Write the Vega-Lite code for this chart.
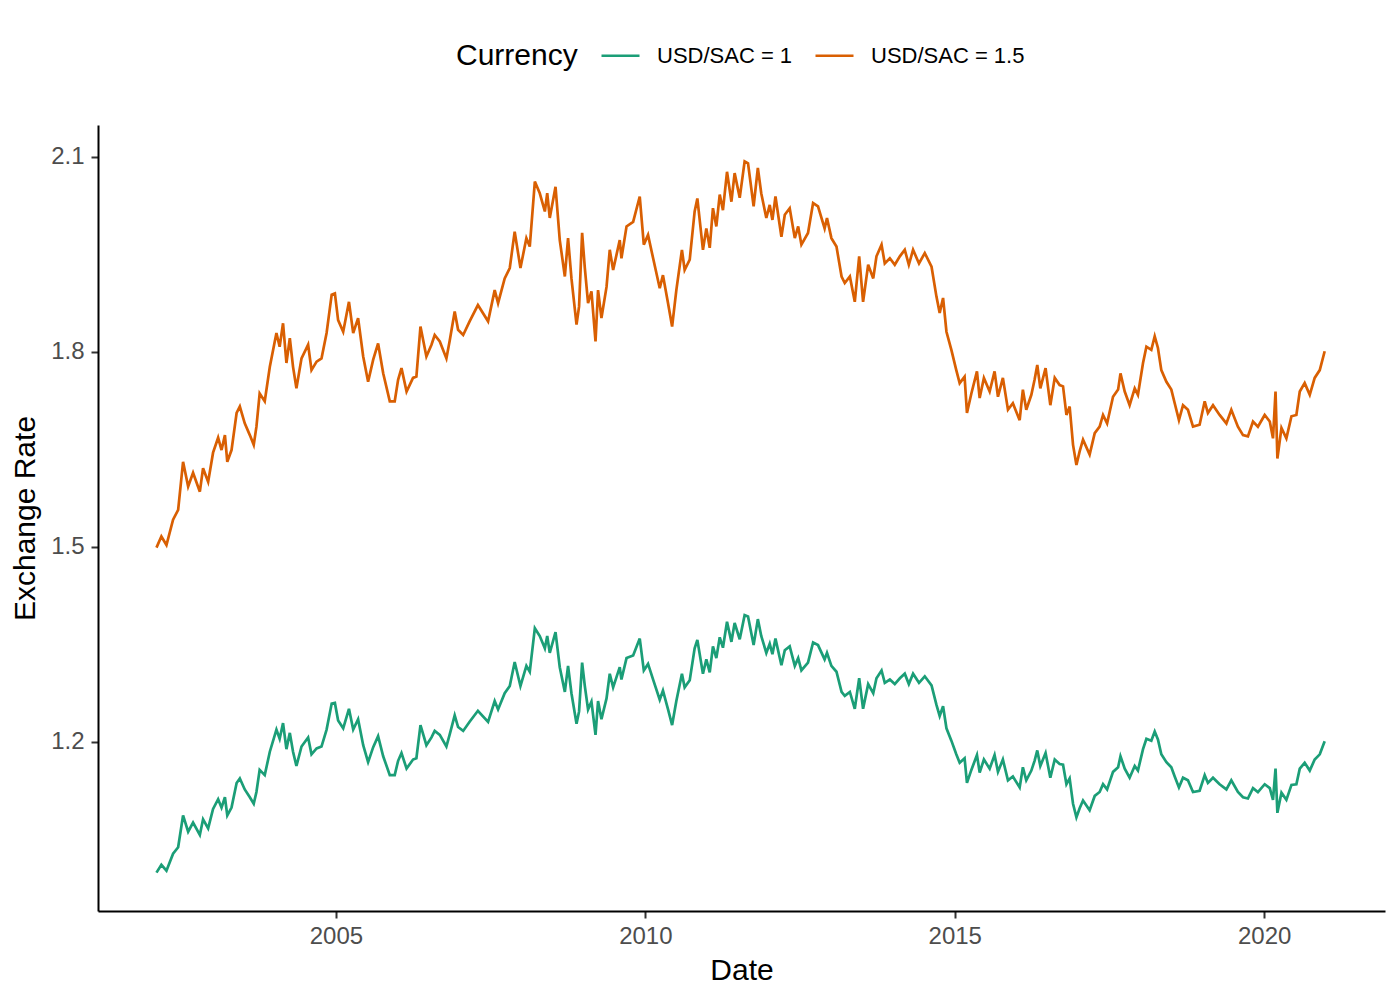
{
  "$schema": "https://vega.github.io/schema/vega-lite/v6.json",
  "autosize": {"type": "none"},
  "width": 1287,
  "height": 786,
  "padding": {"left": 98, "top": 125, "right": 15, "bottom": 89},
  "background": "white",
  "config": {"view": {"stroke": null}, "font": "Liberation Sans"},
  "data": {
    "values": [
      {"d": "2002-02-07", "c": "USD/SAC = 1", "v": 0.999},
      {"d": "2002-03-08", "c": "USD/SAC = 1", "v": 1.011},
      {"d": "2002-04-07", "c": "USD/SAC = 1", "v": 1.002},
      {"d": "2002-05-16", "c": "USD/SAC = 1", "v": 1.028},
      {"d": "2002-06-15", "c": "USD/SAC = 1", "v": 1.038},
      {"d": "2002-07-14", "c": "USD/SAC = 1", "v": 1.087},
      {"d": "2002-08-13", "c": "USD/SAC = 1", "v": 1.062},
      {"d": "2002-09-11", "c": "USD/SAC = 1", "v": 1.076},
      {"d": "2002-10-21", "c": "USD/SAC = 1", "v": 1.057},
      {"d": "2002-11-09", "c": "USD/SAC = 1", "v": 1.081},
      {"d": "2002-12-09", "c": "USD/SAC = 1", "v": 1.067},
      {"d": "2003-01-07", "c": "USD/SAC = 1", "v": 1.097},
      {"d": "2003-02-06", "c": "USD/SAC = 1", "v": 1.112},
      {"d": "2003-02-26", "c": "USD/SAC = 1", "v": 1.099},
      {"d": "2003-03-18", "c": "USD/SAC = 1", "v": 1.115},
      {"d": "2003-04-01", "c": "USD/SAC = 1", "v": 1.087},
      {"d": "2003-04-26", "c": "USD/SAC = 1", "v": 1.099},
      {"d": "2003-05-26", "c": "USD/SAC = 1", "v": 1.137},
      {"d": "2003-06-14", "c": "USD/SAC = 1", "v": 1.144},
      {"d": "2003-07-13", "c": "USD/SAC = 1", "v": 1.127},
      {"d": "2003-08-12", "c": "USD/SAC = 1", "v": 1.115},
      {"d": "2003-09-04", "c": "USD/SAC = 1", "v": 1.105},
      {"d": "2003-09-20", "c": "USD/SAC = 1", "v": 1.123},
      {"d": "2003-10-09", "c": "USD/SAC = 1", "v": 1.157},
      {"d": "2003-11-08", "c": "USD/SAC = 1", "v": 1.149},
      {"d": "2003-12-08", "c": "USD/SAC = 1", "v": 1.185},
      {"d": "2004-01-16", "c": "USD/SAC = 1", "v": 1.219},
      {"d": "2004-02-04", "c": "USD/SAC = 1", "v": 1.205},
      {"d": "2004-02-24", "c": "USD/SAC = 1", "v": 1.229},
      {"d": "2004-03-15", "c": "USD/SAC = 1", "v": 1.189},
      {"d": "2004-04-04", "c": "USD/SAC = 1", "v": 1.214},
      {"d": "2004-04-23", "c": "USD/SAC = 1", "v": 1.185},
      {"d": "2004-05-13", "c": "USD/SAC = 1", "v": 1.163},
      {"d": "2004-06-12", "c": "USD/SAC = 1", "v": 1.193},
      {"d": "2004-07-21", "c": "USD/SAC = 1", "v": 1.207},
      {"d": "2004-08-10", "c": "USD/SAC = 1", "v": 1.181},
      {"d": "2004-09-09", "c": "USD/SAC = 1", "v": 1.190},
      {"d": "2004-10-08", "c": "USD/SAC = 1", "v": 1.193},
      {"d": "2004-11-07", "c": "USD/SAC = 1", "v": 1.219},
      {"d": "2004-12-07", "c": "USD/SAC = 1", "v": 1.259},
      {"d": "2004-12-26", "c": "USD/SAC = 1", "v": 1.260},
      {"d": "2005-01-14", "c": "USD/SAC = 1", "v": 1.233},
      {"d": "2005-02-13", "c": "USD/SAC = 1", "v": 1.221},
      {"d": "2005-03-19", "c": "USD/SAC = 1", "v": 1.251},
      {"d": "2005-04-13", "c": "USD/SAC = 1", "v": 1.219},
      {"d": "2005-05-12", "c": "USD/SAC = 1", "v": 1.235},
      {"d": "2005-06-11", "c": "USD/SAC = 1", "v": 1.195},
      {"d": "2005-07-10", "c": "USD/SAC = 1", "v": 1.169},
      {"d": "2005-08-09", "c": "USD/SAC = 1", "v": 1.192},
      {"d": "2005-09-07", "c": "USD/SAC = 1", "v": 1.209},
      {"d": "2005-10-07", "c": "USD/SAC = 1", "v": 1.178},
      {"d": "2005-11-15", "c": "USD/SAC = 1", "v": 1.149},
      {"d": "2005-12-14", "c": "USD/SAC = 1", "v": 1.149},
      {"d": "2006-01-03", "c": "USD/SAC = 1", "v": 1.171},
      {"d": "2006-01-23", "c": "USD/SAC = 1", "v": 1.183},
      {"d": "2006-02-22", "c": "USD/SAC = 1", "v": 1.159},
      {"d": "2006-04-01", "c": "USD/SAC = 1", "v": 1.173},
      {"d": "2006-04-21", "c": "USD/SAC = 1", "v": 1.175},
      {"d": "2006-05-15", "c": "USD/SAC = 1", "v": 1.226},
      {"d": "2006-06-19", "c": "USD/SAC = 1", "v": 1.195},
      {"d": "2006-07-19", "c": "USD/SAC = 1", "v": 1.207},
      {"d": "2006-08-07", "c": "USD/SAC = 1", "v": 1.217},
      {"d": "2006-09-06", "c": "USD/SAC = 1", "v": 1.211},
      {"d": "2006-10-15", "c": "USD/SAC = 1", "v": 1.193},
      {"d": "2006-11-04", "c": "USD/SAC = 1", "v": 1.212},
      {"d": "2006-12-03", "c": "USD/SAC = 1", "v": 1.241},
      {"d": "2006-12-23", "c": "USD/SAC = 1", "v": 1.223},
      {"d": "2007-01-22", "c": "USD/SAC = 1", "v": 1.217},
      {"d": "2007-03-01", "c": "USD/SAC = 1", "v": 1.231},
      {"d": "2007-04-19", "c": "USD/SAC = 1", "v": 1.248},
      {"d": "2007-06-18", "c": "USD/SAC = 1", "v": 1.231},
      {"d": "2007-07-27", "c": "USD/SAC = 1", "v": 1.263},
      {"d": "2007-08-16", "c": "USD/SAC = 1", "v": 1.250},
      {"d": "2007-09-24", "c": "USD/SAC = 1", "v": 1.275},
      {"d": "2007-10-24", "c": "USD/SAC = 1", "v": 1.286},
      {"d": "2007-11-22", "c": "USD/SAC = 1", "v": 1.323},
      {"d": "2007-12-26", "c": "USD/SAC = 1", "v": 1.286},
      {"d": "2008-01-30", "c": "USD/SAC = 1", "v": 1.317},
      {"d": "2008-02-19", "c": "USD/SAC = 1", "v": 1.308},
      {"d": "2008-03-20", "c": "USD/SAC = 1", "v": 1.375},
      {"d": "2008-04-18", "c": "USD/SAC = 1", "v": 1.363},
      {"d": "2008-05-18", "c": "USD/SAC = 1", "v": 1.344},
      {"d": "2008-06-01", "c": "USD/SAC = 1", "v": 1.363},
      {"d": "2008-06-16", "c": "USD/SAC = 1", "v": 1.337},
      {"d": "2008-07-20", "c": "USD/SAC = 1", "v": 1.369},
      {"d": "2008-08-14", "c": "USD/SAC = 1", "v": 1.315},
      {"d": "2008-09-13", "c": "USD/SAC = 1", "v": 1.277},
      {"d": "2008-10-02", "c": "USD/SAC = 1", "v": 1.317},
      {"d": "2008-10-22", "c": "USD/SAC = 1", "v": 1.275},
      {"d": "2008-11-21", "c": "USD/SAC = 1", "v": 1.228},
      {"d": "2008-12-06", "c": "USD/SAC = 1", "v": 1.247},
      {"d": "2008-12-24", "c": "USD/SAC = 1", "v": 1.322},
      {"d": "2009-01-09", "c": "USD/SAC = 1", "v": 1.286},
      {"d": "2009-01-28", "c": "USD/SAC = 1", "v": 1.250},
      {"d": "2009-02-17", "c": "USD/SAC = 1", "v": 1.262},
      {"d": "2009-03-13", "c": "USD/SAC = 1", "v": 1.211},
      {"d": "2009-03-28", "c": "USD/SAC = 1", "v": 1.263},
      {"d": "2009-04-17", "c": "USD/SAC = 1", "v": 1.235},
      {"d": "2009-05-17", "c": "USD/SAC = 1", "v": 1.267},
      {"d": "2009-06-05", "c": "USD/SAC = 1", "v": 1.305},
      {"d": "2009-06-25", "c": "USD/SAC = 1", "v": 1.284},
      {"d": "2009-08-03", "c": "USD/SAC = 1", "v": 1.315},
      {"d": "2009-08-13", "c": "USD/SAC = 1", "v": 1.296},
      {"d": "2009-09-12", "c": "USD/SAC = 1", "v": 1.329},
      {"d": "2009-10-21", "c": "USD/SAC = 1", "v": 1.333},
      {"d": "2009-11-29", "c": "USD/SAC = 1", "v": 1.359},
      {"d": "2009-12-23", "c": "USD/SAC = 1", "v": 1.310},
      {"d": "2010-01-17", "c": "USD/SAC = 1", "v": 1.320},
      {"d": "2010-02-16", "c": "USD/SAC = 1", "v": 1.296},
      {"d": "2010-03-27", "c": "USD/SAC = 1", "v": 1.265},
      {"d": "2010-04-15", "c": "USD/SAC = 1", "v": 1.279},
      {"d": "2010-05-15", "c": "USD/SAC = 1", "v": 1.250},
      {"d": "2010-06-08", "c": "USD/SAC = 1", "v": 1.226},
      {"d": "2010-07-03", "c": "USD/SAC = 1", "v": 1.263},
      {"d": "2010-08-05", "c": "USD/SAC = 1", "v": 1.305},
      {"d": "2010-08-21", "c": "USD/SAC = 1", "v": 1.284},
      {"d": "2010-09-20", "c": "USD/SAC = 1", "v": 1.295},
      {"d": "2010-10-19", "c": "USD/SAC = 1", "v": 1.344},
      {"d": "2010-11-04", "c": "USD/SAC = 1", "v": 1.357},
      {"d": "2010-12-07", "c": "USD/SAC = 1", "v": 1.305},
      {"d": "2010-12-27", "c": "USD/SAC = 1", "v": 1.327},
      {"d": "2011-01-16", "c": "USD/SAC = 1", "v": 1.307},
      {"d": "2011-02-04", "c": "USD/SAC = 1", "v": 1.347},
      {"d": "2011-02-24", "c": "USD/SAC = 1", "v": 1.329},
      {"d": "2011-03-16", "c": "USD/SAC = 1", "v": 1.361},
      {"d": "2011-04-04", "c": "USD/SAC = 1", "v": 1.345},
      {"d": "2011-04-28", "c": "USD/SAC = 1", "v": 1.385},
      {"d": "2011-05-24", "c": "USD/SAC = 1", "v": 1.354},
      {"d": "2011-06-12", "c": "USD/SAC = 1", "v": 1.383},
      {"d": "2011-07-12", "c": "USD/SAC = 1", "v": 1.358},
      {"d": "2011-08-10", "c": "USD/SAC = 1", "v": 1.395},
      {"d": "2011-08-30", "c": "USD/SAC = 1", "v": 1.393},
      {"d": "2011-10-02", "c": "USD/SAC = 1", "v": 1.349},
      {"d": "2011-10-27", "c": "USD/SAC = 1", "v": 1.389},
      {"d": "2011-11-16", "c": "USD/SAC = 1", "v": 1.363},
      {"d": "2011-12-16", "c": "USD/SAC = 1", "v": 1.337},
      {"d": "2012-01-05", "c": "USD/SAC = 1", "v": 1.351},
      {"d": "2012-01-21", "c": "USD/SAC = 1", "v": 1.335},
      {"d": "2012-02-08", "c": "USD/SAC = 1", "v": 1.359},
      {"d": "2012-03-14", "c": "USD/SAC = 1", "v": 1.318},
      {"d": "2012-04-03", "c": "USD/SAC = 1", "v": 1.341},
      {"d": "2012-05-02", "c": "USD/SAC = 1", "v": 1.347},
      {"d": "2012-06-01", "c": "USD/SAC = 1", "v": 1.317},
      {"d": "2012-06-21", "c": "USD/SAC = 1", "v": 1.329},
      {"d": "2012-07-10", "c": "USD/SAC = 1", "v": 1.310},
      {"d": "2012-08-18", "c": "USD/SAC = 1", "v": 1.322},
      {"d": "2012-09-17", "c": "USD/SAC = 1", "v": 1.353},
      {"d": "2012-10-16", "c": "USD/SAC = 1", "v": 1.349},
      {"d": "2012-11-24", "c": "USD/SAC = 1", "v": 1.327},
      {"d": "2012-12-08", "c": "USD/SAC = 1", "v": 1.337},
      {"d": "2013-01-03", "c": "USD/SAC = 1", "v": 1.317},
      {"d": "2013-02-02", "c": "USD/SAC = 1", "v": 1.308},
      {"d": "2013-03-04", "c": "USD/SAC = 1", "v": 1.277},
      {"d": "2013-03-23", "c": "USD/SAC = 1", "v": 1.271},
      {"d": "2013-04-22", "c": "USD/SAC = 1", "v": 1.277},
      {"d": "2013-05-21", "c": "USD/SAC = 1", "v": 1.251},
      {"d": "2013-06-16", "c": "USD/SAC = 1", "v": 1.298},
      {"d": "2013-07-09", "c": "USD/SAC = 1", "v": 1.251},
      {"d": "2013-08-08", "c": "USD/SAC = 1", "v": 1.289},
      {"d": "2013-09-07", "c": "USD/SAC = 1", "v": 1.275},
      {"d": "2013-09-26", "c": "USD/SAC = 1", "v": 1.298},
      {"d": "2013-10-26", "c": "USD/SAC = 1", "v": 1.310},
      {"d": "2013-11-14", "c": "USD/SAC = 1", "v": 1.291},
      {"d": "2013-12-14", "c": "USD/SAC = 1", "v": 1.296},
      {"d": "2014-01-12", "c": "USD/SAC = 1", "v": 1.289},
      {"d": "2014-02-11", "c": "USD/SAC = 1", "v": 1.298},
      {"d": "2014-03-12", "c": "USD/SAC = 1", "v": 1.305},
      {"d": "2014-04-05", "c": "USD/SAC = 1", "v": 1.289},
      {"d": "2014-04-30", "c": "USD/SAC = 1", "v": 1.305},
      {"d": "2014-06-04", "c": "USD/SAC = 1", "v": 1.291},
      {"d": "2014-07-08", "c": "USD/SAC = 1", "v": 1.301},
      {"d": "2014-08-17", "c": "USD/SAC = 1", "v": 1.287},
      {"d": "2014-09-15", "c": "USD/SAC = 1", "v": 1.257},
      {"d": "2014-10-04", "c": "USD/SAC = 1", "v": 1.240},
      {"d": "2014-10-24", "c": "USD/SAC = 1", "v": 1.255},
      {"d": "2014-11-13", "c": "USD/SAC = 1", "v": 1.221},
      {"d": "2014-12-12", "c": "USD/SAC = 1", "v": 1.202},
      {"d": "2015-01-10", "c": "USD/SAC = 1", "v": 1.181},
      {"d": "2015-01-30", "c": "USD/SAC = 1", "v": 1.168},
      {"d": "2015-02-28", "c": "USD/SAC = 1", "v": 1.175},
      {"d": "2015-03-14", "c": "USD/SAC = 1", "v": 1.137},
      {"d": "2015-04-09", "c": "USD/SAC = 1", "v": 1.157},
      {"d": "2015-05-12", "c": "USD/SAC = 1", "v": 1.180},
      {"d": "2015-05-28", "c": "USD/SAC = 1", "v": 1.153},
      {"d": "2015-06-22", "c": "USD/SAC = 1", "v": 1.173},
      {"d": "2015-07-26", "c": "USD/SAC = 1", "v": 1.159},
      {"d": "2015-08-24", "c": "USD/SAC = 1", "v": 1.180},
      {"d": "2015-09-13", "c": "USD/SAC = 1", "v": 1.154},
      {"d": "2015-10-12", "c": "USD/SAC = 1", "v": 1.173},
      {"d": "2015-11-11", "c": "USD/SAC = 1", "v": 1.141},
      {"d": "2015-12-10", "c": "USD/SAC = 1", "v": 1.147},
      {"d": "2016-01-19", "c": "USD/SAC = 1", "v": 1.130},
      {"d": "2016-02-07", "c": "USD/SAC = 1", "v": 1.161},
      {"d": "2016-02-27", "c": "USD/SAC = 1", "v": 1.141},
      {"d": "2016-03-28", "c": "USD/SAC = 1", "v": 1.156},
      {"d": "2016-04-16", "c": "USD/SAC = 1", "v": 1.171},
      {"d": "2016-05-02", "c": "USD/SAC = 1", "v": 1.187},
      {"d": "2016-05-20", "c": "USD/SAC = 1", "v": 1.163},
      {"d": "2016-06-20", "c": "USD/SAC = 1", "v": 1.183},
      {"d": "2016-07-18", "c": "USD/SAC = 1", "v": 1.145},
      {"d": "2016-08-13", "c": "USD/SAC = 1", "v": 1.173},
      {"d": "2016-09-11", "c": "USD/SAC = 1", "v": 1.166},
      {"d": "2016-10-01", "c": "USD/SAC = 1", "v": 1.165},
      {"d": "2016-10-21", "c": "USD/SAC = 1", "v": 1.135},
      {"d": "2016-11-09", "c": "USD/SAC = 1", "v": 1.144},
      {"d": "2016-11-29", "c": "USD/SAC = 1", "v": 1.105},
      {"d": "2016-12-19", "c": "USD/SAC = 1", "v": 1.084},
      {"d": "2017-01-07", "c": "USD/SAC = 1", "v": 1.098},
      {"d": "2017-01-27", "c": "USD/SAC = 1", "v": 1.110},
      {"d": "2017-03-07", "c": "USD/SAC = 1", "v": 1.095},
      {"d": "2017-04-06", "c": "USD/SAC = 1", "v": 1.117},
      {"d": "2017-05-05", "c": "USD/SAC = 1", "v": 1.123},
      {"d": "2017-05-25", "c": "USD/SAC = 1", "v": 1.135},
      {"d": "2017-06-18", "c": "USD/SAC = 1", "v": 1.127},
      {"d": "2017-07-23", "c": "USD/SAC = 1", "v": 1.154},
      {"d": "2017-08-22", "c": "USD/SAC = 1", "v": 1.161},
      {"d": "2017-09-05", "c": "USD/SAC = 1", "v": 1.178},
      {"d": "2017-09-30", "c": "USD/SAC = 1", "v": 1.159},
      {"d": "2017-10-29", "c": "USD/SAC = 1", "v": 1.145},
      {"d": "2017-11-28", "c": "USD/SAC = 1", "v": 1.163},
      {"d": "2017-12-17", "c": "USD/SAC = 1", "v": 1.156},
      {"d": "2018-01-16", "c": "USD/SAC = 1", "v": 1.189},
      {"d": "2018-02-05", "c": "USD/SAC = 1", "v": 1.205},
      {"d": "2018-03-06", "c": "USD/SAC = 1", "v": 1.202},
      {"d": "2018-03-26", "c": "USD/SAC = 1", "v": 1.216},
      {"d": "2018-04-14", "c": "USD/SAC = 1", "v": 1.204},
      {"d": "2018-05-04", "c": "USD/SAC = 1", "v": 1.181},
      {"d": "2018-06-03", "c": "USD/SAC = 1", "v": 1.169},
      {"d": "2018-07-02", "c": "USD/SAC = 1", "v": 1.161},
      {"d": "2018-07-22", "c": "USD/SAC = 1", "v": 1.147},
      {"d": "2018-08-16", "c": "USD/SAC = 1", "v": 1.130},
      {"d": "2018-09-09", "c": "USD/SAC = 1", "v": 1.145},
      {"d": "2018-10-08", "c": "USD/SAC = 1", "v": 1.141},
      {"d": "2018-11-07", "c": "USD/SAC = 1", "v": 1.123},
      {"d": "2018-12-16", "c": "USD/SAC = 1", "v": 1.125},
      {"d": "2019-01-15", "c": "USD/SAC = 1", "v": 1.149},
      {"d": "2019-02-03", "c": "USD/SAC = 1", "v": 1.137},
      {"d": "2019-03-05", "c": "USD/SAC = 1", "v": 1.145},
      {"d": "2019-04-13", "c": "USD/SAC = 1", "v": 1.135},
      {"d": "2019-05-23", "c": "USD/SAC = 1", "v": 1.127},
      {"d": "2019-06-21", "c": "USD/SAC = 1", "v": 1.141},
      {"d": "2019-07-30", "c": "USD/SAC = 1", "v": 1.123},
      {"d": "2019-08-29", "c": "USD/SAC = 1", "v": 1.115},
      {"d": "2019-09-27", "c": "USD/SAC = 1", "v": 1.113},
      {"d": "2019-10-27", "c": "USD/SAC = 1", "v": 1.129},
      {"d": "2019-11-25", "c": "USD/SAC = 1", "v": 1.123},
      {"d": "2020-01-04", "c": "USD/SAC = 1", "v": 1.135},
      {"d": "2020-02-03", "c": "USD/SAC = 1", "v": 1.129},
      {"d": "2020-02-22", "c": "USD/SAC = 1", "v": 1.111},
      {"d": "2020-03-08", "c": "USD/SAC = 1", "v": 1.159},
      {"d": "2020-03-19", "c": "USD/SAC = 1", "v": 1.091},
      {"d": "2020-04-12", "c": "USD/SAC = 1", "v": 1.122},
      {"d": "2020-05-11", "c": "USD/SAC = 1", "v": 1.111},
      {"d": "2020-06-10", "c": "USD/SAC = 1", "v": 1.134},
      {"d": "2020-07-09", "c": "USD/SAC = 1", "v": 1.135},
      {"d": "2020-07-29", "c": "USD/SAC = 1", "v": 1.159},
      {"d": "2020-08-27", "c": "USD/SAC = 1", "v": 1.168},
      {"d": "2020-09-26", "c": "USD/SAC = 1", "v": 1.156},
      {"d": "2020-10-25", "c": "USD/SAC = 1", "v": 1.173},
      {"d": "2020-11-24", "c": "USD/SAC = 1", "v": 1.181},
      {"d": "2020-12-23", "c": "USD/SAC = 1", "v": 1.201},
      {"d": "2002-02-07", "c": "USD/SAC = 1.5", "v": 1.499},
      {"d": "2002-03-08", "c": "USD/SAC = 1.5", "v": 1.516},
      {"d": "2002-04-07", "c": "USD/SAC = 1.5", "v": 1.503},
      {"d": "2002-05-16", "c": "USD/SAC = 1.5", "v": 1.542},
      {"d": "2002-06-15", "c": "USD/SAC = 1.5", "v": 1.557},
      {"d": "2002-07-14", "c": "USD/SAC = 1.5", "v": 1.631},
      {"d": "2002-08-13", "c": "USD/SAC = 1.5", "v": 1.593},
      {"d": "2002-09-11", "c": "USD/SAC = 1.5", "v": 1.614},
      {"d": "2002-10-21", "c": "USD/SAC = 1.5", "v": 1.585},
      {"d": "2002-11-09", "c": "USD/SAC = 1.5", "v": 1.621},
      {"d": "2002-12-09", "c": "USD/SAC = 1.5", "v": 1.600},
      {"d": "2003-01-07", "c": "USD/SAC = 1.5", "v": 1.645},
      {"d": "2003-02-06", "c": "USD/SAC = 1.5", "v": 1.668},
      {"d": "2003-02-26", "c": "USD/SAC = 1.5", "v": 1.649},
      {"d": "2003-03-18", "c": "USD/SAC = 1.5", "v": 1.672},
      {"d": "2003-04-01", "c": "USD/SAC = 1.5", "v": 1.631},
      {"d": "2003-04-26", "c": "USD/SAC = 1.5", "v": 1.649},
      {"d": "2003-05-26", "c": "USD/SAC = 1.5", "v": 1.706},
      {"d": "2003-06-14", "c": "USD/SAC = 1.5", "v": 1.716},
      {"d": "2003-07-13", "c": "USD/SAC = 1.5", "v": 1.690},
      {"d": "2003-08-12", "c": "USD/SAC = 1.5", "v": 1.672},
      {"d": "2003-09-04", "c": "USD/SAC = 1.5", "v": 1.657},
      {"d": "2003-09-20", "c": "USD/SAC = 1.5", "v": 1.685},
      {"d": "2003-10-09", "c": "USD/SAC = 1.5", "v": 1.736},
      {"d": "2003-11-08", "c": "USD/SAC = 1.5", "v": 1.724},
      {"d": "2003-12-08", "c": "USD/SAC = 1.5", "v": 1.777},
      {"d": "2004-01-16", "c": "USD/SAC = 1.5", "v": 1.829},
      {"d": "2004-02-04", "c": "USD/SAC = 1.5", "v": 1.808},
      {"d": "2004-02-24", "c": "USD/SAC = 1.5", "v": 1.844},
      {"d": "2004-03-15", "c": "USD/SAC = 1.5", "v": 1.783},
      {"d": "2004-04-04", "c": "USD/SAC = 1.5", "v": 1.821},
      {"d": "2004-04-23", "c": "USD/SAC = 1.5", "v": 1.777},
      {"d": "2004-05-13", "c": "USD/SAC = 1.5", "v": 1.744},
      {"d": "2004-06-12", "c": "USD/SAC = 1.5", "v": 1.790},
      {"d": "2004-07-21", "c": "USD/SAC = 1.5", "v": 1.811},
      {"d": "2004-08-10", "c": "USD/SAC = 1.5", "v": 1.772},
      {"d": "2004-09-09", "c": "USD/SAC = 1.5", "v": 1.785},
      {"d": "2004-10-08", "c": "USD/SAC = 1.5", "v": 1.790},
      {"d": "2004-11-07", "c": "USD/SAC = 1.5", "v": 1.829},
      {"d": "2004-12-07", "c": "USD/SAC = 1.5", "v": 1.888},
      {"d": "2004-12-26", "c": "USD/SAC = 1.5", "v": 1.890},
      {"d": "2005-01-14", "c": "USD/SAC = 1.5", "v": 1.849},
      {"d": "2005-02-13", "c": "USD/SAC = 1.5", "v": 1.831},
      {"d": "2005-03-19", "c": "USD/SAC = 1.5", "v": 1.877},
      {"d": "2005-04-13", "c": "USD/SAC = 1.5", "v": 1.829},
      {"d": "2005-05-12", "c": "USD/SAC = 1.5", "v": 1.852},
      {"d": "2005-06-11", "c": "USD/SAC = 1.5", "v": 1.793},
      {"d": "2005-07-10", "c": "USD/SAC = 1.5", "v": 1.754},
      {"d": "2005-08-09", "c": "USD/SAC = 1.5", "v": 1.788},
      {"d": "2005-09-07", "c": "USD/SAC = 1.5", "v": 1.813},
      {"d": "2005-10-07", "c": "USD/SAC = 1.5", "v": 1.767},
      {"d": "2005-11-15", "c": "USD/SAC = 1.5", "v": 1.724},
      {"d": "2005-12-14", "c": "USD/SAC = 1.5", "v": 1.724},
      {"d": "2006-01-03", "c": "USD/SAC = 1.5", "v": 1.757},
      {"d": "2006-01-23", "c": "USD/SAC = 1.5", "v": 1.775},
      {"d": "2006-02-22", "c": "USD/SAC = 1.5", "v": 1.739},
      {"d": "2006-04-01", "c": "USD/SAC = 1.5", "v": 1.760},
      {"d": "2006-04-21", "c": "USD/SAC = 1.5", "v": 1.762},
      {"d": "2006-05-15", "c": "USD/SAC = 1.5", "v": 1.839},
      {"d": "2006-06-19", "c": "USD/SAC = 1.5", "v": 1.793},
      {"d": "2006-07-19", "c": "USD/SAC = 1.5", "v": 1.811},
      {"d": "2006-08-07", "c": "USD/SAC = 1.5", "v": 1.826},
      {"d": "2006-09-06", "c": "USD/SAC = 1.5", "v": 1.816},
      {"d": "2006-10-15", "c": "USD/SAC = 1.5", "v": 1.790},
      {"d": "2006-11-04", "c": "USD/SAC = 1.5", "v": 1.818},
      {"d": "2006-12-03", "c": "USD/SAC = 1.5", "v": 1.862},
      {"d": "2006-12-23", "c": "USD/SAC = 1.5", "v": 1.834},
      {"d": "2007-01-22", "c": "USD/SAC = 1.5", "v": 1.826},
      {"d": "2007-03-01", "c": "USD/SAC = 1.5", "v": 1.847},
      {"d": "2007-04-19", "c": "USD/SAC = 1.5", "v": 1.872},
      {"d": "2007-06-18", "c": "USD/SAC = 1.5", "v": 1.847},
      {"d": "2007-07-27", "c": "USD/SAC = 1.5", "v": 1.895},
      {"d": "2007-08-16", "c": "USD/SAC = 1.5", "v": 1.875},
      {"d": "2007-09-24", "c": "USD/SAC = 1.5", "v": 1.913},
      {"d": "2007-10-24", "c": "USD/SAC = 1.5", "v": 1.929},
      {"d": "2007-11-22", "c": "USD/SAC = 1.5", "v": 1.985},
      {"d": "2007-12-26", "c": "USD/SAC = 1.5", "v": 1.929},
      {"d": "2008-01-30", "c": "USD/SAC = 1.5", "v": 1.975},
      {"d": "2008-02-19", "c": "USD/SAC = 1.5", "v": 1.962},
      {"d": "2008-03-20", "c": "USD/SAC = 1.5", "v": 2.062},
      {"d": "2008-04-18", "c": "USD/SAC = 1.5", "v": 2.044},
      {"d": "2008-05-18", "c": "USD/SAC = 1.5", "v": 2.016},
      {"d": "2008-06-01", "c": "USD/SAC = 1.5", "v": 2.044},
      {"d": "2008-06-16", "c": "USD/SAC = 1.5", "v": 2.006},
      {"d": "2008-07-20", "c": "USD/SAC = 1.5", "v": 2.054},
      {"d": "2008-08-14", "c": "USD/SAC = 1.5", "v": 1.972},
      {"d": "2008-09-13", "c": "USD/SAC = 1.5", "v": 1.916},
      {"d": "2008-10-02", "c": "USD/SAC = 1.5", "v": 1.975},
      {"d": "2008-10-22", "c": "USD/SAC = 1.5", "v": 1.913},
      {"d": "2008-11-21", "c": "USD/SAC = 1.5", "v": 1.842},
      {"d": "2008-12-06", "c": "USD/SAC = 1.5", "v": 1.870},
      {"d": "2008-12-24", "c": "USD/SAC = 1.5", "v": 1.983},
      {"d": "2009-01-09", "c": "USD/SAC = 1.5", "v": 1.929},
      {"d": "2009-01-28", "c": "USD/SAC = 1.5", "v": 1.875},
      {"d": "2009-02-17", "c": "USD/SAC = 1.5", "v": 1.893},
      {"d": "2009-03-13", "c": "USD/SAC = 1.5", "v": 1.816},
      {"d": "2009-03-28", "c": "USD/SAC = 1.5", "v": 1.895},
      {"d": "2009-04-17", "c": "USD/SAC = 1.5", "v": 1.852},
      {"d": "2009-05-17", "c": "USD/SAC = 1.5", "v": 1.900},
      {"d": "2009-06-05", "c": "USD/SAC = 1.5", "v": 1.957},
      {"d": "2009-06-25", "c": "USD/SAC = 1.5", "v": 1.926},
      {"d": "2009-08-03", "c": "USD/SAC = 1.5", "v": 1.972},
      {"d": "2009-08-13", "c": "USD/SAC = 1.5", "v": 1.944},
      {"d": "2009-09-12", "c": "USD/SAC = 1.5", "v": 1.993},
      {"d": "2009-10-21", "c": "USD/SAC = 1.5", "v": 2.000},
      {"d": "2009-11-29", "c": "USD/SAC = 1.5", "v": 2.039},
      {"d": "2009-12-23", "c": "USD/SAC = 1.5", "v": 1.965},
      {"d": "2010-01-17", "c": "USD/SAC = 1.5", "v": 1.980},
      {"d": "2010-02-16", "c": "USD/SAC = 1.5", "v": 1.944},
      {"d": "2010-03-27", "c": "USD/SAC = 1.5", "v": 1.898},
      {"d": "2010-04-15", "c": "USD/SAC = 1.5", "v": 1.918},
      {"d": "2010-05-15", "c": "USD/SAC = 1.5", "v": 1.875},
      {"d": "2010-06-08", "c": "USD/SAC = 1.5", "v": 1.839},
      {"d": "2010-07-03", "c": "USD/SAC = 1.5", "v": 1.895},
      {"d": "2010-08-05", "c": "USD/SAC = 1.5", "v": 1.957},
      {"d": "2010-08-21", "c": "USD/SAC = 1.5", "v": 1.926},
      {"d": "2010-09-20", "c": "USD/SAC = 1.5", "v": 1.942},
      {"d": "2010-10-19", "c": "USD/SAC = 1.5", "v": 2.016},
      {"d": "2010-11-04", "c": "USD/SAC = 1.5", "v": 2.036},
      {"d": "2010-12-07", "c": "USD/SAC = 1.5", "v": 1.957},
      {"d": "2010-12-27", "c": "USD/SAC = 1.5", "v": 1.990},
      {"d": "2011-01-16", "c": "USD/SAC = 1.5", "v": 1.960},
      {"d": "2011-02-04", "c": "USD/SAC = 1.5", "v": 2.021},
      {"d": "2011-02-24", "c": "USD/SAC = 1.5", "v": 1.993},
      {"d": "2011-03-16", "c": "USD/SAC = 1.5", "v": 2.042},
      {"d": "2011-04-04", "c": "USD/SAC = 1.5", "v": 2.018},
      {"d": "2011-04-28", "c": "USD/SAC = 1.5", "v": 2.077},
      {"d": "2011-05-24", "c": "USD/SAC = 1.5", "v": 2.031},
      {"d": "2011-06-12", "c": "USD/SAC = 1.5", "v": 2.075},
      {"d": "2011-07-12", "c": "USD/SAC = 1.5", "v": 2.037},
      {"d": "2011-08-10", "c": "USD/SAC = 1.5", "v": 2.093},
      {"d": "2011-08-30", "c": "USD/SAC = 1.5", "v": 2.090},
      {"d": "2011-10-02", "c": "USD/SAC = 1.5", "v": 2.024},
      {"d": "2011-10-27", "c": "USD/SAC = 1.5", "v": 2.083},
      {"d": "2011-11-16", "c": "USD/SAC = 1.5", "v": 2.044},
      {"d": "2011-12-16", "c": "USD/SAC = 1.5", "v": 2.006},
      {"d": "2012-01-05", "c": "USD/SAC = 1.5", "v": 2.026},
      {"d": "2012-01-21", "c": "USD/SAC = 1.5", "v": 2.003},
      {"d": "2012-02-08", "c": "USD/SAC = 1.5", "v": 2.039},
      {"d": "2012-03-14", "c": "USD/SAC = 1.5", "v": 1.977},
      {"d": "2012-04-03", "c": "USD/SAC = 1.5", "v": 2.011},
      {"d": "2012-05-02", "c": "USD/SAC = 1.5", "v": 2.021},
      {"d": "2012-06-01", "c": "USD/SAC = 1.5", "v": 1.975},
      {"d": "2012-06-21", "c": "USD/SAC = 1.5", "v": 1.993},
      {"d": "2012-07-10", "c": "USD/SAC = 1.5", "v": 1.965},
      {"d": "2012-08-18", "c": "USD/SAC = 1.5", "v": 1.983},
      {"d": "2012-09-17", "c": "USD/SAC = 1.5", "v": 2.029},
      {"d": "2012-10-16", "c": "USD/SAC = 1.5", "v": 2.024},
      {"d": "2012-11-24", "c": "USD/SAC = 1.5", "v": 1.990},
      {"d": "2012-12-08", "c": "USD/SAC = 1.5", "v": 2.006},
      {"d": "2013-01-03", "c": "USD/SAC = 1.5", "v": 1.975},
      {"d": "2013-02-02", "c": "USD/SAC = 1.5", "v": 1.962},
      {"d": "2013-03-04", "c": "USD/SAC = 1.5", "v": 1.916},
      {"d": "2013-03-23", "c": "USD/SAC = 1.5", "v": 1.906},
      {"d": "2013-04-22", "c": "USD/SAC = 1.5", "v": 1.916},
      {"d": "2013-05-21", "c": "USD/SAC = 1.5", "v": 1.877},
      {"d": "2013-06-16", "c": "USD/SAC = 1.5", "v": 1.947},
      {"d": "2013-07-09", "c": "USD/SAC = 1.5", "v": 1.877},
      {"d": "2013-08-08", "c": "USD/SAC = 1.5", "v": 1.934},
      {"d": "2013-09-07", "c": "USD/SAC = 1.5", "v": 1.913},
      {"d": "2013-09-26", "c": "USD/SAC = 1.5", "v": 1.947},
      {"d": "2013-10-26", "c": "USD/SAC = 1.5", "v": 1.965},
      {"d": "2013-11-14", "c": "USD/SAC = 1.5", "v": 1.936},
      {"d": "2013-12-14", "c": "USD/SAC = 1.5", "v": 1.944},
      {"d": "2014-01-12", "c": "USD/SAC = 1.5", "v": 1.934},
      {"d": "2014-02-11", "c": "USD/SAC = 1.5", "v": 1.947},
      {"d": "2014-03-12", "c": "USD/SAC = 1.5", "v": 1.957},
      {"d": "2014-04-05", "c": "USD/SAC = 1.5", "v": 1.934},
      {"d": "2014-04-30", "c": "USD/SAC = 1.5", "v": 1.957},
      {"d": "2014-06-04", "c": "USD/SAC = 1.5", "v": 1.936},
      {"d": "2014-07-08", "c": "USD/SAC = 1.5", "v": 1.952},
      {"d": "2014-08-17", "c": "USD/SAC = 1.5", "v": 1.931},
      {"d": "2014-09-15", "c": "USD/SAC = 1.5", "v": 1.885},
      {"d": "2014-10-04", "c": "USD/SAC = 1.5", "v": 1.860},
      {"d": "2014-10-24", "c": "USD/SAC = 1.5", "v": 1.883},
      {"d": "2014-11-13", "c": "USD/SAC = 1.5", "v": 1.831},
      {"d": "2014-12-12", "c": "USD/SAC = 1.5", "v": 1.803},
      {"d": "2015-01-10", "c": "USD/SAC = 1.5", "v": 1.772},
      {"d": "2015-01-30", "c": "USD/SAC = 1.5", "v": 1.752},
      {"d": "2015-02-28", "c": "USD/SAC = 1.5", "v": 1.762},
      {"d": "2015-03-14", "c": "USD/SAC = 1.5", "v": 1.706},
      {"d": "2015-04-09", "c": "USD/SAC = 1.5", "v": 1.736},
      {"d": "2015-05-12", "c": "USD/SAC = 1.5", "v": 1.770},
      {"d": "2015-05-28", "c": "USD/SAC = 1.5", "v": 1.729},
      {"d": "2015-06-22", "c": "USD/SAC = 1.5", "v": 1.760},
      {"d": "2015-07-26", "c": "USD/SAC = 1.5", "v": 1.739},
      {"d": "2015-08-24", "c": "USD/SAC = 1.5", "v": 1.770},
      {"d": "2015-09-13", "c": "USD/SAC = 1.5", "v": 1.731},
      {"d": "2015-10-12", "c": "USD/SAC = 1.5", "v": 1.760},
      {"d": "2015-11-11", "c": "USD/SAC = 1.5", "v": 1.711},
      {"d": "2015-12-10", "c": "USD/SAC = 1.5", "v": 1.721},
      {"d": "2016-01-19", "c": "USD/SAC = 1.5", "v": 1.695},
      {"d": "2016-02-07", "c": "USD/SAC = 1.5", "v": 1.742},
      {"d": "2016-02-27", "c": "USD/SAC = 1.5", "v": 1.711},
      {"d": "2016-03-28", "c": "USD/SAC = 1.5", "v": 1.734},
      {"d": "2016-04-16", "c": "USD/SAC = 1.5", "v": 1.757},
      {"d": "2016-05-02", "c": "USD/SAC = 1.5", "v": 1.780},
      {"d": "2016-05-20", "c": "USD/SAC = 1.5", "v": 1.744},
      {"d": "2016-06-20", "c": "USD/SAC = 1.5", "v": 1.775},
      {"d": "2016-07-18", "c": "USD/SAC = 1.5", "v": 1.718},
      {"d": "2016-08-13", "c": "USD/SAC = 1.5", "v": 1.760},
      {"d": "2016-09-11", "c": "USD/SAC = 1.5", "v": 1.749},
      {"d": "2016-10-01", "c": "USD/SAC = 1.5", "v": 1.747},
      {"d": "2016-10-21", "c": "USD/SAC = 1.5", "v": 1.703},
      {"d": "2016-11-09", "c": "USD/SAC = 1.5", "v": 1.716},
      {"d": "2016-11-29", "c": "USD/SAC = 1.5", "v": 1.657},
      {"d": "2016-12-19", "c": "USD/SAC = 1.5", "v": 1.626},
      {"d": "2017-01-07", "c": "USD/SAC = 1.5", "v": 1.647},
      {"d": "2017-01-27", "c": "USD/SAC = 1.5", "v": 1.665},
      {"d": "2017-03-07", "c": "USD/SAC = 1.5", "v": 1.642},
      {"d": "2017-04-06", "c": "USD/SAC = 1.5", "v": 1.675},
      {"d": "2017-05-05", "c": "USD/SAC = 1.5", "v": 1.685},
      {"d": "2017-05-25", "c": "USD/SAC = 1.5", "v": 1.703},
      {"d": "2017-06-18", "c": "USD/SAC = 1.5", "v": 1.690},
      {"d": "2017-07-23", "c": "USD/SAC = 1.5", "v": 1.731},
      {"d": "2017-08-22", "c": "USD/SAC = 1.5", "v": 1.742},
      {"d": "2017-09-05", "c": "USD/SAC = 1.5", "v": 1.767},
      {"d": "2017-09-30", "c": "USD/SAC = 1.5", "v": 1.739},
      {"d": "2017-10-29", "c": "USD/SAC = 1.5", "v": 1.718},
      {"d": "2017-11-28", "c": "USD/SAC = 1.5", "v": 1.744},
      {"d": "2017-12-17", "c": "USD/SAC = 1.5", "v": 1.734},
      {"d": "2018-01-16", "c": "USD/SAC = 1.5", "v": 1.783},
      {"d": "2018-02-05", "c": "USD/SAC = 1.5", "v": 1.808},
      {"d": "2018-03-06", "c": "USD/SAC = 1.5", "v": 1.803},
      {"d": "2018-03-26", "c": "USD/SAC = 1.5", "v": 1.824},
      {"d": "2018-04-14", "c": "USD/SAC = 1.5", "v": 1.806},
      {"d": "2018-05-04", "c": "USD/SAC = 1.5", "v": 1.772},
      {"d": "2018-06-03", "c": "USD/SAC = 1.5", "v": 1.754},
      {"d": "2018-07-02", "c": "USD/SAC = 1.5", "v": 1.742},
      {"d": "2018-07-22", "c": "USD/SAC = 1.5", "v": 1.721},
      {"d": "2018-08-16", "c": "USD/SAC = 1.5", "v": 1.695},
      {"d": "2018-09-09", "c": "USD/SAC = 1.5", "v": 1.718},
      {"d": "2018-10-08", "c": "USD/SAC = 1.5", "v": 1.711},
      {"d": "2018-11-07", "c": "USD/SAC = 1.5", "v": 1.685},
      {"d": "2018-12-16", "c": "USD/SAC = 1.5", "v": 1.688},
      {"d": "2019-01-15", "c": "USD/SAC = 1.5", "v": 1.724},
      {"d": "2019-02-03", "c": "USD/SAC = 1.5", "v": 1.706},
      {"d": "2019-03-05", "c": "USD/SAC = 1.5", "v": 1.718},
      {"d": "2019-04-13", "c": "USD/SAC = 1.5", "v": 1.703},
      {"d": "2019-05-23", "c": "USD/SAC = 1.5", "v": 1.690},
      {"d": "2019-06-21", "c": "USD/SAC = 1.5", "v": 1.711},
      {"d": "2019-07-30", "c": "USD/SAC = 1.5", "v": 1.685},
      {"d": "2019-08-29", "c": "USD/SAC = 1.5", "v": 1.672},
      {"d": "2019-09-27", "c": "USD/SAC = 1.5", "v": 1.670},
      {"d": "2019-10-27", "c": "USD/SAC = 1.5", "v": 1.693},
      {"d": "2019-11-25", "c": "USD/SAC = 1.5", "v": 1.685},
      {"d": "2020-01-04", "c": "USD/SAC = 1.5", "v": 1.703},
      {"d": "2020-02-03", "c": "USD/SAC = 1.5", "v": 1.693},
      {"d": "2020-02-22", "c": "USD/SAC = 1.5", "v": 1.667},
      {"d": "2020-03-08", "c": "USD/SAC = 1.5", "v": 1.739},
      {"d": "2020-03-19", "c": "USD/SAC = 1.5", "v": 1.636},
      {"d": "2020-04-12", "c": "USD/SAC = 1.5", "v": 1.683},
      {"d": "2020-05-11", "c": "USD/SAC = 1.5", "v": 1.667},
      {"d": "2020-06-10", "c": "USD/SAC = 1.5", "v": 1.701},
      {"d": "2020-07-09", "c": "USD/SAC = 1.5", "v": 1.703},
      {"d": "2020-07-29", "c": "USD/SAC = 1.5", "v": 1.739},
      {"d": "2020-08-27", "c": "USD/SAC = 1.5", "v": 1.752},
      {"d": "2020-09-26", "c": "USD/SAC = 1.5", "v": 1.734},
      {"d": "2020-10-25", "c": "USD/SAC = 1.5", "v": 1.760},
      {"d": "2020-11-24", "c": "USD/SAC = 1.5", "v": 1.772},
      {"d": "2020-12-23", "c": "USD/SAC = 1.5", "v": 1.801}
    ]
  },
  "mark": {"type": "line", "strokeWidth": 2.7},
  "encoding": {
    "x": {
      "field": "d",
      "type": "temporal",
      "title": "Date",
      "scale": {"domain": [{"year": 2001, "month": 2, "date": 27}, {"year": 2021, "month": 12, "date": 14}]},
      "axis": {
        "values": [{"year": 2005}, {"year": 2010}, {"year": 2015}, {"year": 2020}],
        "format": "%Y",
        "grid": false,
        "domainColor": "black",
        "domainWidth": 2,
        "tickColor": "#333333",
        "tickWidth": 2,
        "tickSize": 7,
        "labelFontSize": 24,
        "labelColor": "#4D4D4D",
        "labelPadding": 6,
        "titleFontSize": 30,
        "titleFontWeight": "normal",
        "titleColor": "black",
        "titlePadding": 7
      }
    },
    "y": {
      "field": "v",
      "type": "quantitative",
      "title": "Exchange Rate",
      "scale": {"domain": [0.94, 2.149], "nice": false, "zero": false},
      "axis": {
        "values": [1.2, 1.5, 1.8, 2.1],
        "format": ".1f",
        "grid": false,
        "domainColor": "black",
        "domainWidth": 2,
        "tickColor": "#333333",
        "tickWidth": 2,
        "tickSize": 7,
        "labelFontSize": 24,
        "labelColor": "#4D4D4D",
        "labelPadding": 7,
        "titleFontSize": 30,
        "titleFontWeight": "normal",
        "titleColor": "black",
        "titlePadding": 10
      }
    },
    "color": {
      "field": "c",
      "type": "nominal",
      "scale": {"domain": ["USD/SAC = 1", "USD/SAC = 1.5"], "range": ["#1B9E77", "#D95F02"]},
      "legend": {
        "title": "Currency",
        "orient": "none",
        "legendX": 358,
        "legendY": -90,
        "direction": "horizontal",
        "titleOrient": "left",
        "titleAnchor": "middle",
        "titleBaseline": "line-top",
        "titleLineHeight": 11,
        "titleFontSize": 30,
        "titleFontWeight": "normal",
        "titleColor": "black",
        "titlePadding": 22,
        "symbolType": "stroke",
        "symbolSize": 1444,
        "symbolStrokeWidth": 2.7,
        "labelFontSize": 22,
        "labelColor": "black",
        "labelOffset": 16,
        "columnPadding": 17
      }
    }
  }
}
